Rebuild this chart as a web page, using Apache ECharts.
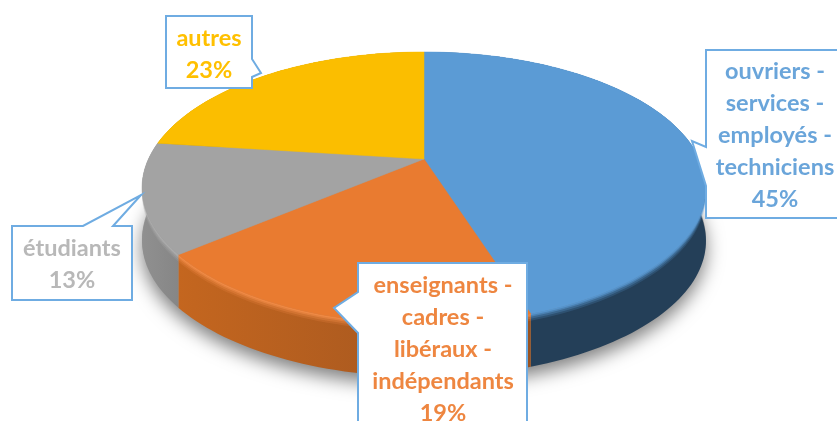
<!DOCTYPE html>
<html><head><meta charset="utf-8">
<style>html,body{margin:0;padding:0;background:#fff;overflow:hidden}#c{width:837px;height:421px}</style>
<script src="https://cdn.jsdelivr.net/npm/echarts@6/dist/echarts.min.js"></script>
</head><body><div id="c"></div>
<script>
// Data, clockwise from 12 o'clock
const categories = ['ouvriers -\nservices -\nemployés -\ntechniciens', 'enseignants -\ncadres -\nlibéraux -\nindépendants', 'étudiants', 'autres'];
const shares = [45, 19, 13, 23];
// Styling
const topColors = ['#5B9BD5', '#E97B30', '#A3A3A3', '#FBBE00'];
const bevelColors = ['#5B9BD5', '#F48E4A', '#B0B0B0', '#FBBE00'];
const sideLeft = ['#243F58', '#C4661F', '#909090', '#8a6a00'];
const sideRight = ['#243F58', '#9A5220', '#868686', '#8a6a00'];
const textColors = ['#6AA5DA', '#EE8640', '#B8B8B8', '#FFC000'];
const boxColor = '#6FACE2';
const FONT = 'Lato';
// Callout layout: box, tail points, text centre, for each category
const callouts = [
  {box:[706,50,850,218], tail:[[706,147],[692,141],[706,186]], side:'left', tx:775, ty:135},
  {box:[358,263,527,440], tail:[[358,292],[334,308],[358,333]], side:'left', tx:443, ty:349},
  {box:[12,226,132,300], tail:[[83,226],[141,195],[113,226]], side:'top', tx:72, ty:264.5},
  {box:[166,16,252,88], tail:[[252,59],[261,73],[252,77]], side:'right', tx:209, ty:54}
];
// Perspective projection of the pie disc
const CX = 424, CY = 159, K = 0.213, AY = 129.8, BX = 275.5, DEPTH = 53;
function proj(deg, dy) {
  const a = deg * Math.PI / 180, u = Math.sin(a), v = -Math.cos(a), w = 1 - K * v;
  return [CX + BX * u / w, CY + AY * v / w + (dy || 0)];
}
function arc(a0, a1, dy) {
  const n = Math.max(2, Math.ceil(Math.abs(a1 - a0) / 1.5)), pts = [];
  for (let i = 0; i <= n; i++) pts.push(proj(a0 + (a1 - a0) * i / n, dy));
  return pts;
}
const total = shares.reduce((a, b) => a + b, 0);
let acc = 0;
const rows = shares.map(s => { const r = [acc / total * 360, (acc + s) / total * 360]; acc += s; return r; });

function band(a0, a1, d0, d1) { return arc(a0, a1, d0).concat(arc(a0, a1, d1).reverse()); }

const shadowSeries = {
  type:'custom', coordinateSystem:'none', silent:true, z:1, data:[[0,360]],
  renderItem(p, api) {
    return {type:'polygon', shape:{points:arc(0,360,DEPTH-2)},
      style:{fill:'#999', shadowBlur:18, shadowColor:'rgba(0,0,0,0.5)', shadowOffsetY:10}};
  }
};
const sideSeries = {
  type:'custom', coordinateSystem:'none', silent:true, z:2, data:rows,
  renderItem(p, api) {
    const a0 = api.value(0), a1 = api.value(1), i = p.dataIndex;
    const fill = {type:'linear',x:0,y:0,x2:1,y2:0,colorStops:[{offset:0,color:sideLeft[i]},{offset:1,color:sideRight[i]}]};
    return {type:'polygon', shape:{points:band(a0,a1,0,DEPTH)}, style:{fill:fill}};
  }
};
const bevelSeries = {
  type:'custom', coordinateSystem:'none', silent:true, z:3, data:rows,
  renderItem(p, api) {
    const a0 = api.value(0), a1 = api.value(1), c = bevelColors[p.dataIndex];
    return {type:'group', children:[[7,0.2],[5,0.3],[3,0.5],[1.5,0.7]].map(b => ({
      type:'polygon', shape:{points:band(a0,a1,0,b[0])}, style:{fill:c, opacity:b[1]}
    }))};
  }
};
const topSeries = {
  type:'custom', coordinateSystem:'none', silent:true, z:4, data:rows,
  renderItem(p, api) {
    const a0 = api.value(0), a1 = api.value(1), c = topColors[p.dataIndex];
    return {type:'polygon', shape:{points:[[CX,CY]].concat(arc(a0,a1,0))},
      style:{fill:c, stroke:c, lineWidth:0.5}};
  }
};
const calloutSeries = {
  type:'custom', coordinateSystem:'none', silent:true, z:5, clip:false,
  data:shares.map((s,i)=>[s,i]),
  renderItem(p, api) {
    const i = p.dataIndex, c = callouts[i], [x0,y0,x1,y1] = c.box, t = c.tail;
    let pts;
    if (c.side === 'left') pts = [[x0,y0],[x1,y0],[x1,y1],[x0,y1],t[2],t[1],t[0]];
    else if (c.side === 'right') pts = [[x0,y0],[x1,y0],t[0],t[1],t[2],[x1,y1],[x0,y1]];
    else pts = [[x0,y0],t[0],t[1],t[2],[x1,y0],[x1,y1],[x0,y1]];
    return {type:'group', children:[
      {type:'polygon', shape:{points:pts}, style:{fill:'#fff', stroke:boxColor, lineWidth:2}},
      {type:'text', style:{x:c.tx, y:c.ty, text:categories[i] + '\n' + api.value(0) + '%',
        fill:textColors[i], font:'bold 23.5px ' + FONT, lineHeight:32, align:'center', verticalAlign:'middle'}}
    ]};
  }
};
const chart = echarts.init(document.getElementById('c'), null, {renderer:'canvas'});
chart.setOption({animation:false, backgroundColor:'#fff',
  series:[shadowSeries, sideSeries, bevelSeries, topSeries, calloutSeries]});
</script></body></html>
